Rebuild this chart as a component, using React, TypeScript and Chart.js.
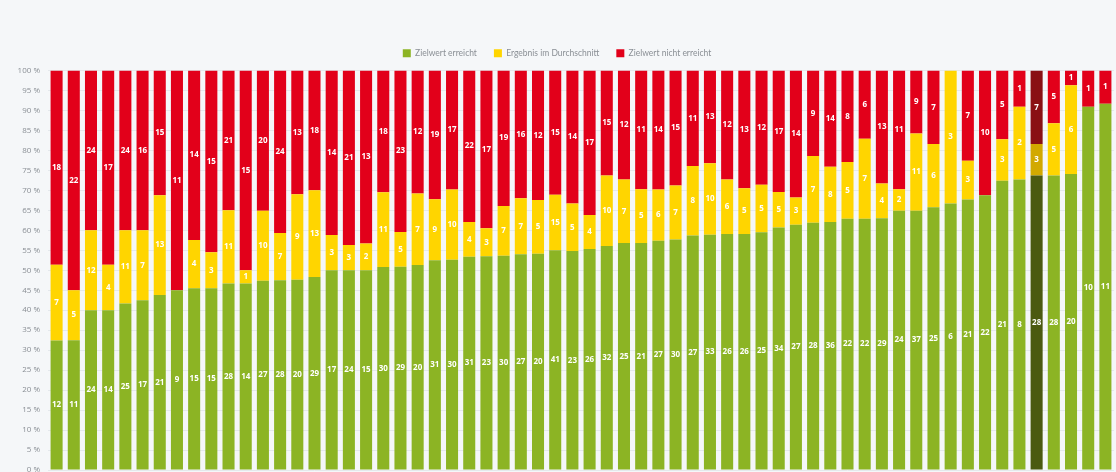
import React, { useEffect, useRef } from "react";
import { Chart, registerables } from "chart.js";

Chart.register(...registerables);

const categories = [
  "1", "2", "3", "4", "5", "6", "7", "8", "9", "10",
  "11", "12", "13", "14", "15", "16", "17", "18", "19", "20",
  "21", "22", "23", "24", "25", "26", "27", "28", "29", "30",
  "31", "32", "33", "34", "35", "36", "37", "38", "39", "40",
  "41", "42", "43", "44", "45", "46", "47", "48", "49", "50",
  "51", "52", "53", "54", "55", "56", "57", "58", "59", "60",
  "61", "62",
];

const seriesNames = ["Zielwert erreicht", "Ergebnis im Durchschnitt", "Zielwert nicht erreicht"];

// share of each bar in percent
const greenPct = [
  32.4, 32.5, 40.0, 40.0, 41.7, 42.5, 43.8, 45.0, 45.5, 45.5,
  46.7, 46.7, 47.4, 47.5, 47.6, 48.3, 50.0, 50.0, 50.0, 50.8,
  50.9, 51.3, 52.5, 52.6, 53.4, 53.5, 53.6, 54.0, 54.1, 55.0,
  54.8, 55.3, 56.1, 56.8, 56.8, 57.4, 57.7, 58.7, 58.9, 59.1,
  59.1, 59.5, 60.7, 61.4, 61.9, 62.1, 62.9, 62.9, 63.0, 64.9,
  64.9, 65.8, 66.7, 67.7, 68.8, 72.4, 72.7, 73.7, 73.7, 74.1,
  90.9, 91.7,
];
const yellowPct = [
  19.0, 12.5, 20.0, 11.4, 18.3, 17.5, 25.0, 0, 12.1, 9.0,
  18.3, 3.3, 17.5, 11.8, 21.4, 21.7, 8.8, 6.3, 6.7, 18.7,
  8.7, 17.9, 15.3, 17.6, 8.7, 7.0, 12.5, 14.0, 13.5, 13.9,
  11.9, 8.5, 17.6, 15.9, 13.5, 12.8, 13.5, 17.4, 17.9, 13.6,
  11.4, 11.9, 8.9, 6.8, 16.7, 13.8, 14.2, 20.0, 8.7, 5.4,
  19.3, 15.8, 33.3, 9.7, 0, 10.4, 18.2, 7.9, 13.1, 22.2,
  0, 0,
];
const redPct = [
  48.6, 55.0, 40.0, 48.6, 40.0, 40.0, 31.2, 55.0, 42.4, 45.5,
  35.0, 50.0, 35.1, 40.7, 31.0, 30.0, 41.2, 43.7, 43.3, 30.5,
  40.4, 30.8, 32.2, 29.8, 37.9, 39.5, 33.9, 32.0, 32.4, 31.1,
  33.3, 36.2, 26.3, 27.3, 29.7, 29.8, 28.8, 23.9, 23.2, 27.3,
  29.5, 28.6, 30.4, 31.8, 21.4, 24.1, 22.9, 17.1, 28.3, 29.7,
  15.8, 18.4, 0, 22.6, 31.2, 17.2, 9.1, 18.4, 13.2, 3.7,
  9.1, 8.3,
];

// counts printed inside the segments
const greenCount = [
  12, 11, 24, 14, 25, 17, 21, 9, 15, 15,
  28, 14, 27, 28, 20, 29, 17, 24, 15, 30,
  29, 20, 31, 30, 31, 23, 30, 27, 20, 41,
  23, 26, 32, 25, 21, 27, 30, 27, 33, 26,
  26, 25, 34, 27, 28, 36, 22, 22, 29, 24,
  37, 25, 6, 21, 22, 21, 8, 28, 28, 20,
  10, 11,
];
const yellowCount = [
  7, 5, 12, 4, 11, 7, 13, 0, 4, 3,
  11, 1, 10, 7, 9, 13, 3, 3, 2, 11,
  5, 7, 9, 10, 4, 3, 7, 7, 5, 15,
  5, 4, 10, 7, 5, 6, 7, 8, 10, 6,
  5, 5, 5, 3, 7, 8, 5, 7, 4, 2,
  11, 6, 3, 3, 0, 3, 2, 3, 5, 6,
  0, 0,
];
const redCount = [
  18, 22, 24, 17, 24, 16, 15, 11, 14, 15,
  21, 15, 20, 24, 13, 18, 14, 21, 13, 18,
  23, 12, 19, 17, 22, 17, 19, 16, 12, 15,
  14, 17, 15, 12, 11, 14, 15, 11, 13, 12,
  13, 12, 17, 14, 9, 14, 8, 6, 13, 11,
  9, 7, 0, 7, 10, 5, 1, 7, 5, 1,
  1, 1,
];

const highlightIndex = 57;

const yTickValues = [0, 5, 10, 15, 20, 25, 30, 35, 40, 45, 50, 55, 60, 65, 70, 75, 80, 85, 90, 95, 100];

const COLORS = {
  green: "#8cb424",
  yellow: "#ffd500",
  red: "#e2001a",
  greenDark: "#4b5a10",
  yellowDark: "#d2a900",
  redDark: "#8a1014",
};

const countsByDataset = [greenCount, yellowCount, redCount];

const countLabelPlugin = {
  id: "countLabels",
  afterDatasetsDraw(chart: any) {
    const ctx = chart.ctx;
    ctx.save();
    ctx.font = 'bold 8px "Open Sans", sans-serif';
    ctx.fillStyle = "#ffffff";
    ctx.textAlign = "center";
    ctx.textBaseline = "middle";
    chart.data.datasets.forEach((_ds: any, di: number) => {
      const meta = chart.getDatasetMeta(di);
      const counts = countsByDataset[di];
      meta.data.forEach((el: any, i: number) => {
        const c = counts[i];
        if (!c) return;
        const { x, y, base } = el.getProps(["x", "y", "base"], true);
        ctx.fillText(String(c), x, (y + base) / 2);
      });
    });
    ctx.restore();
  },
};

const legendSpacingPlugin = {
  id: "legendSpacing",
  beforeInit(chart: any) {
    const legend = chart.legend;
    if (!legend) return;
    const origFit = legend.fit;
    legend.fit = function () {
      origFit.call(this);
      this.height += 3;
    };
  },
};

function colorsFor(base: string, dark: string) {
  return categories.map((_, i) => (i === highlightIndex ? dark : base));
}

export default function App() {
  const canvasRef = useRef<HTMLCanvasElement | null>(null);

  useEffect(() => {
    const canvas = canvasRef.current;
    if (!canvas) return;
    const chart = new Chart(canvas, {
      type: "bar",
      data: {
        labels: categories,
        datasets: [
          {
            label: seriesNames[0],
            data: greenPct,
            backgroundColor: colorsFor(COLORS.green, COLORS.greenDark),
            borderWidth: 0,
          },
          {
            label: seriesNames[1],
            data: yellowPct,
            backgroundColor: colorsFor(COLORS.yellow, COLORS.yellowDark),
            borderWidth: 0,
          },
          {
            label: seriesNames[2],
            data: redPct,
            backgroundColor: colorsFor(COLORS.red, COLORS.redDark),
            borderWidth: 0,
          },
        ],
      },
      options: {
        animation: false,
        responsive: false,
        maintainAspectRatio: false,
        datasets: {
          bar: { categoryPercentage: 1, barPercentage: 0.7 },
        },
        layout: { padding: { top: 32, right: 2, left: 0, bottom: 30 } },
        plugins: {
          legend: {
            display: true,
            position: "top",
            labels: {
              boxWidth: 8,
              boxHeight: 8,
              padding: 17,
              color: "#8a8f95",
              font: { family: "Lato, 'Open Sans', sans-serif", size: 8.5 },
              generateLabels: () =>
                seriesNames.map((name, i) => ({
                  text: name,
                  fillStyle: [COLORS.green, COLORS.yellow, COLORS.red][i],
                  strokeStyle: [COLORS.green, COLORS.yellow, COLORS.red][i],
                  lineWidth: 0,
                  hidden: false,
                  datasetIndex: i,
                  fontColor: "#8a8f95",
                })),
            },
          },
          tooltip: { enabled: false },
        },
        scales: {
          x: {
            stacked: true,
            display: false,
            grid: { display: false },
          },
          y: {
            stacked: true,
            min: 0,
            max: 100,
            border: { display: false },
            grid: { color: "#e4e8ec", lineWidth: 1, drawTicks: false },
            afterBuildTicks: (scale: any) => {
              scale.ticks = yTickValues.map((v) => ({ value: v }));
            },
            afterFit: (scale: any) => {
              scale.width = 48;
            },
            ticks: {
              padding: 8,
              color: "#8a8f95",
              font: { family: "'Open Sans', sans-serif", size: 8 },
              callback: (v: any) => `${v} %`,
            },
          },
        },
      },
      plugins: [countLabelPlugin, legendSpacingPlugin],
    });
    return () => chart.destroy();
  }, []);

  return (
    <div
      style={{
        position: "fixed",
        left: 0,
        top: 0,
        width: 1116,
        height: 500,
        background: "#f5f7f9",
      }}
    >
      <canvas ref={canvasRef} width={1116} height={500} style={{ display: "block", width: 1116, height: 500 }} />
    </div>
  );
}
